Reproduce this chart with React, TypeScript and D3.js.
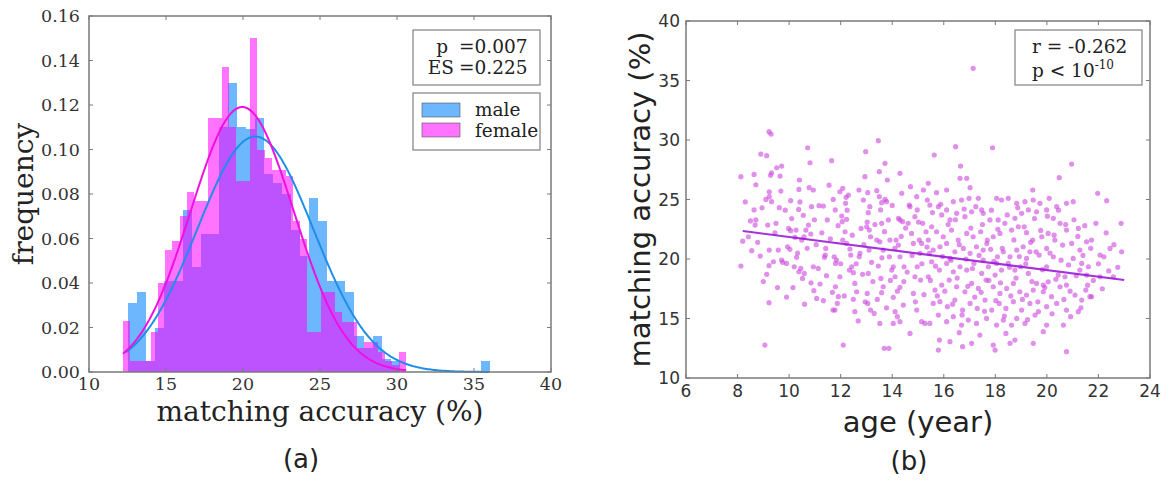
import React from "react";
import * as d3 from "d3";

// ---- panel (a): histogram of matching accuracy by sex ----
const maleStart = 12.55;
const maleBinWidth = 0.5875;
const maleFreq = [
  0.031, 0.036, 0.005, 0.02, 0.041, 0.041, 0.073, 0.047, 0.062, 0.062,
  0.11, 0.13, 0.11, 0.109, 0.114, 0.089, 0.085, 0.08, 0.064, 0.052,
  0.078, 0.068, 0.041, 0.041, 0.036, 0.016, 0.011, 0.016, 0.006, 0.005,
  0, 0, 0, 0, 0, 0, 0, 0, 0, 0.005,
];

const femaleStart = 12.2;
const femaleBinWidth = 0.46;
const femaleFreq = [
  0.023, 0.005, 0.005, 0.005, 0.018, 0.04, 0.055, 0.059, 0.07, 0.081,
  0.077, 0.077, 0.114, 0.114, 0.137, 0.11, 0.086, 0.086, 0.15, 0.1,
  0.096, 0.091, 0.091, 0.088, 0.068, 0.06, 0.018, 0.018, 0.036, 0.036,
  0.027, 0.0226, 0.0226, 0.011, 0.0136, 0.0136, 0.009, 0.005, 0.003, 0.009,
];

// fitted normal curves (mean, sd, drawn range)
const maleFit = { mean: 20.8, sd: 3.77, from: 12.4, to: 36.0 };
const femaleFit = { mean: 19.95, sd: 3.35, from: 12.2, to: 30.6 };

const histXTicks = [10, 15, 20, 25, 30, 35, 40];
const histYTicks = [0, 0.02, 0.04, 0.06, 0.08, 0.1, 0.12, 0.14, 0.16];

// ---- panel (b): age vs matching accuracy ----
const subjects: [number, number][] = [
  [8.13, 26.92], [8.13, 19.41], [8.64, 27.11], [8.71, 26.24], [8.64, 24.12], [8.71, 23.28],
  [8.68, 22.85], [8.9, 28.82], [9.13, 28.68], [8.88, 20.25], [9.22, 30.7], [9.3, 30.5],
  [9.06, 12.77], [9.22, 16.33], [9.23, 25.65], [9.28, 27.03], [9.32, 27.25], [9.52, 27.67],
  [9.71, 27.81], [9.65, 26.97], [9.23, 25.24], [9.1, 25.01], [9.32, 24.82], [9.68, 25.71],
  [9.62, 24.31], [9.17, 22.85], [9.49, 23.0], [9.23, 20.75], [9.58, 20.75], [9.71, 19.91],
  [9.75, 19.72], [9.39, 19.77], [9.22, 19.44], [9.13, 18.71], [8.42, 21.87], [8.55, 20.7],
  [9.98, 22.57], [10.06, 22.38], [10.27, 22.43], [10.23, 21.82], [9.94, 21.03], [10.03, 20.81],
  [10.29, 20.14], [10.06, 24.9], [10.4, 26.64], [10.38, 25.85], [10.37, 24.17], [10.55, 23.67],
  [10.72, 29.35], [10.81, 28.09], [10.78, 25.99], [10.94, 25.8], [10.87, 24.4], [10.75, 22.85],
  [10.65, 22.43], [10.58, 21.87], [10.49, 21.59], [10.45, 19.21], [10.59, 18.79], [10.52, 18.37],
  [10.38, 18.93], [10.2, 19.35], [9.9, 19.63], [10.84, 22.1], [10.96, 17.34], [11.07, 16.69],
  [11.33, 16.5], [11.13, 19.21], [10.94, 19.35], [11.16, 24.48], [11.33, 24.45], [11.48, 23.28],
  [11.42, 20.89], [11.4, 20.33], [11.37, 20.14], [11.65, 28.26], [11.71, 25.01], [11.79, 24.12],
  [11.75, 20.19], [11.8, 19.63], [11.84, 19.91], [11.8, 17.67], [11.91, 16.83], [11.87, 16.27],
  [11.78, 15.71], [11.7, 15.71], [11.97, 18.51], [11.97, 25.65], [12.08, 25.94], [12.19, 24.68],
  [12.21, 25.18], [12.3, 25.38], [12.04, 23.61], [12.06, 23.14], [12.23, 23.33], [12.17, 22.29],
  [12.08, 21.59], [12.23, 21.31], [12.36, 20.84], [12.1, 12.77], [12.39, 20.33], [12.43, 19.35],
  [12.49, 18.85], [12.34, 19.07], [12.55, 17.95], [12.62, 17.25], [12.49, 16.61], [12.55, 15.57],
  [12.71, 25.8], [12.79, 22.57], [12.75, 20.47], [12.72, 20.19], [12.85, 18.71], [12.88, 24.96],
  [12.94, 26.92], [12.97, 29.02], [13.05, 25.57], [13.07, 23.89], [13.03, 23.11], [13.01, 22.71],
  [13.11, 22.43], [13.16, 21.87], [13.1, 20.75], [13.2, 19.72], [13.07, 18.79], [13.03, 17.11],
  [13.16, 15.71], [13.05, 16.27], [13.3, 15.43], [13.46, 29.94], [13.5, 27.34], [13.4, 25.74],
  [13.5, 25.24], [13.59, 24.73], [13.55, 24.12], [13.59, 23.0], [13.4, 21.59], [13.52, 21.45],
  [13.65, 20.75], [13.46, 19.41], [13.56, 18.37], [13.65, 17.67], [13.59, 17.17], [13.52, 14.59],
  [13.69, 12.49], [13.87, 12.49], [13.72, 28.04], [13.81, 26.64], [13.72, 25.01], [13.78, 24.82],
  [13.85, 23.28], [13.91, 21.59], [13.89, 20.19], [13.98, 19.07], [14.04, 19.35], [14.11, 18.51],
  [14.04, 16.78], [14.11, 15.57], [14.04, 14.59], [14.3, 14.73], [14.2, 15.15], [14.3, 27.2],
  [14.37, 25.52], [14.24, 23.42], [14.3, 23.28], [14.4, 23.14], [14.15, 21.59], [14.24, 21.17],
  [14.3, 20.19], [14.46, 19.35], [14.3, 17.62], [14.43, 16.13], [14.69, 13.75], [14.69, 24.4],
  [14.71, 26.08], [14.66, 24.53], [14.62, 23.0], [14.75, 22.15], [14.82, 21.31], [14.88, 23.56],
  [14.97, 24.12], [14.95, 25.24], [15.05, 21.59], [15.14, 21.31], [15.08, 20.47], [14.97, 19.35],
  [14.88, 18.51], [14.82, 17.11], [14.95, 15.71], [15.14, 14.73], [15.27, 14.59], [15.1, 18.23],
  [15.4, 18.51], [15.36, 24.96], [15.4, 26.36], [15.21, 25.8], [15.18, 23.0], [15.31, 22.29],
  [15.44, 20.47],
  [17.14, 36.02], [16.46, 29.44], [17.89, 29.35], [15.63, 28.74], [16.65, 27.81], [20.96, 27.98],
  [16.63, 26.78], [16.89, 26.78], [20.48, 26.83], [21.97, 25.52], [22.32, 24.9], [19.45, 25.8],
  [15.72, 25.57], [16.11, 25.8], [17.02, 25.99], [15.46, 24.53], [15.79, 24.4], [16.11, 24.12],
  [16.37, 24.82], [16.69, 24.96], [16.98, 25.1], [17.34, 25.1], [17.47, 24.12], [18.05, 25.1],
  [18.24, 24.96], [18.5, 25.1], [18.83, 24.68], [19.15, 24.82], [19.47, 24.96], [19.73, 24.68],
  [20.09, 25.1], [20.38, 24.4], [20.76, 24.68], [21.02, 24.82], [15.53, 22.71], [15.92, 23.7],
  [16.24, 23.28], [16.5, 23.84], [16.82, 23.56], [17.08, 23.97], [17.53, 23.84], [17.79, 23.28],
  [18.11, 23.28], [18.37, 23.0], [18.76, 23.42], [19.02, 23.84], [19.28, 24.12], [19.6, 23.97],
  [19.99, 24.12], [20.25, 23.42], [20.51, 23.0], [20.76, 22.43], [21.22, 22.57], [21.54, 21.45],
  [21.73, 21.59], [15.4, 21.59], [15.72, 22.29], [15.98, 21.87], [16.3, 22.43], [16.56, 21.59],
  [16.89, 22.15], [17.14, 21.87], [17.43, 22.29], [17.69, 21.59], [17.92, 21.87], [18.18, 22.15],
  [18.63, 22.43], [18.89, 22.71], [19.21, 22.21], [19.45, 21.59], [19.8, 21.87], [20.05, 22.15],
  [20.31, 21.59], [20.61, 21.17], [20.96, 21.31], [21.28, 20.75], [15.59, 20.75], [15.85, 21.03],
  [16.11, 21.31], [16.43, 20.61], [16.76, 20.89], [17.02, 20.47], [17.27, 21.03], [17.53, 20.75],
  [17.82, 20.81], [18.08, 20.19], [18.31, 20.61], [18.57, 20.19], [18.83, 20.75], [19.08, 21.03],
  [19.34, 20.61], [19.7, 20.33], [19.99, 20.89], [20.25, 20.19], [21.02, 20.05], [21.35, 19.63],
  [22.06, 20.33], [22.21, 20.19], [22.45, 20.89], [22.9, 20.61], [15.53, 19.77], [15.83, 19.07],
  [16.11, 19.63], [16.37, 18.93], [16.63, 19.35], [16.89, 19.07], [17.17, 19.63], [17.47, 18.79],
  [17.73, 19.35], [17.99, 18.65], [18.24, 19.07], [18.5, 19.63], [18.76, 19.07], [18.98, 19.35],
  [19.28, 18.79], [19.6, 17.95], [19.86, 17.81], [20.05, 18.09], [20.44, 18.65], [20.7, 18.51],
  [21.28, 19.07], [21.61, 19.35], [15.66, 17.39], [15.92, 17.81], [16.21, 18.23], [16.5, 17.67],
  [16.82, 17.25], [17.08, 17.95], [17.34, 17.53], [17.64, 18.23], [17.92, 17.67], [18.18, 17.11],
  [18.44, 17.53], [18.7, 17.95], [18.95, 17.25], [19.21, 16.97], [19.47, 17.39], [19.86, 17.25],
  [20.18, 16.83], [20.51, 17.67], [20.76, 17.81], [21.09, 16.97], [21.73, 16.83], [15.59, 16.27],
  [15.85, 16.41], [16.14, 15.99], [16.43, 16.55], [16.73, 15.71], [17.02, 16.27], [17.3, 15.85],
  [17.6, 16.55], [17.86, 15.71], [18.15, 16.27], [18.41, 15.85], [18.7, 16.41], [19.02, 15.71],
  [19.34, 16.27], [19.67, 15.57], [19.99, 15.99], [20.38, 16.27], [20.76, 15.71], [21.22, 15.57],
  [21.35, 16.55], [15.46, 14.59], [15.79, 15.29], [16.11, 14.73], [16.37, 15.15], [16.69, 14.45],
  [16.95, 14.87], [17.27, 14.59], [17.66, 15.01], [18.05, 14.45], [18.31, 14.87], [18.63, 14.45],
  [18.83, 15.01], [19.15, 14.59], [19.54, 15.29], [19.99, 14.45], [20.64, 14.45], [20.92, 15.15],
  [15.83, 13.19], [16.24, 13.05], [16.6, 13.81], [16.73, 12.63], [17.4, 13.61], [17.92, 12.77],
  [17.99, 12.35], [18.57, 12.91], [18.41, 13.75], [18.76, 13.19], [19.47, 12.91], [19.86, 13.89],
  [20.76, 12.21], [15.79, 12.35], [17.08, 12.91], [22.58, 18.51], [22.06, 18.51], [21.51, 17.39],
  [21.67, 16.83], [17.53, 19.91], [19.21, 20.05], [18.05, 19.63], [16.24, 20.05], [19.99, 19.35],
  [21.54, 18.65],
  [14.52, 22.6], [14.58, 18.9], [14.77, 20.3], [14.9, 16.4], [15.02, 23.1], [15.15, 19.6],
  [15.23, 17.0], [15.35, 21.0], [15.48, 18.2], [15.56, 23.9], [15.68, 19.4], [15.75, 16.9],
  [15.88, 24.6], [15.95, 20.2], [16.04, 17.3], [16.17, 22.9], [16.28, 19.9], [16.34, 16.2],
  [16.45, 23.3], [16.52, 18.4], [16.6, 21.2], [16.71, 15.3], [16.79, 24.2], [16.86, 20.0],
  [16.93, 17.7], [17.05, 22.6], [17.11, 19.2], [17.2, 16.8], [17.24, 24.4], [17.37, 20.3],
  [17.45, 17.2], [17.5, 22.9], [17.58, 15.6], [17.67, 21.3], [17.75, 18.2], [17.85, 24.1],
  [17.94, 19.8], [18.02, 16.5], [18.1, 22.5], [18.2, 18.0], [18.27, 20.9], [18.35, 15.2],
  [18.46, 23.7], [18.55, 19.3], [18.6, 16.9], [18.72, 21.6], [18.8, 18.4], [18.87, 24.3],
  [18.93, 20.2], [19.05, 16.6], [19.12, 22.7], [19.18, 19.6], [19.25, 14.9], [19.37, 21.4],
  [19.42, 18.1], [19.52, 23.4], [19.58, 20.6], [19.65, 16.4], [19.76, 22.4], [19.83, 19.1],
  [19.92, 17.6], [20.02, 23.6], [20.12, 20.5], [20.2, 15.4], [20.28, 22.0], [20.35, 18.3],
  [20.45, 24.1], [20.55, 19.9], [20.66, 16.6], [20.73, 22.9], [20.84, 19.5], [20.9, 17.3],
  [21.05, 23.3], [21.14, 18.6], [21.2, 21.9], [21.32, 15.9], [21.4, 20.3], [21.47, 22.8],
  [21.58, 17.8], [21.7, 20.9], [21.8, 18.2], [21.9, 23.0], [22.0, 19.6], [22.15, 17.5],
  [22.3, 22.2], [22.4, 19.0], [22.6, 21.2], [22.75, 19.3], [22.88, 23.0],
  [10.1, 23.4], [10.15, 17.6], [10.33, 20.5], [10.42, 24.8], [10.6, 16.2], [10.7, 20.9],
  [10.85, 18.0], [10.98, 23.3], [11.05, 21.2], [11.2, 17.9], [11.27, 22.2], [11.45, 18.6],
  [11.55, 26.2], [11.6, 21.7], [11.68, 17.2], [11.9, 22.8], [12.0, 19.6], [12.14, 16.9],
  [12.25, 24.1], [12.45, 22.0], [12.6, 19.6], [12.68, 14.8], [12.9, 21.2], [12.95, 16.4],
  [13.13, 24.4], [13.25, 18.1], [13.33, 22.9], [13.42, 16.6], [13.6, 20.1], [13.7, 22.3],
  [13.78, 15.9], [13.93, 18.2], [14.0, 24.5], [14.1, 20.9], [14.2, 17.3], [14.35, 21.9],
  [14.45, 18.1],
  [8.2, 21.5], [8.3, 24.8], [8.5, 23.2], [8.78, 21.4], [8.95, 24.3], [9.0, 18.1],
  [9.45, 22.2], [9.55, 17.6], [9.85, 24.1], [9.9, 16.8],
];

// least squares fit line drawn over the age range
const regression = { slope: -0.278, intercept: 24.63, from: 8.2, to: 23.0 };

const scatterXTicks = [6, 8, 10, 12, 14, 16, 18, 20, 22, 24];
const scatterYTicks = [10, 15, 20, 25, 30, 35, 40];

const SERIF = "'DejaVu Serif', serif";
const SANS = "'DejaVu Sans', sans-serif";
const FRAME = "#7a7a7a";
const TICK_TEXT = "#333";

function pdf(x: number, m: number, s: number) {
  return Math.exp(-((x - m) ** 2) / (2 * s * s)) / (s * Math.sqrt(2 * Math.PI));
}

function Frame({ x, y, ticksX, ticksY }: any) {
  const [x0, x1] = x.range();
  const [y0, y1] = y.range();
  const t = 4;
  return (
    <g>
      <rect x={x0} y={y1} width={x1 - x0} height={y0 - y1} fill="none" stroke={FRAME} strokeWidth={1.5} />
      {ticksX.map((v: number) => (
        <g key={"tx" + v} stroke={FRAME} strokeWidth={1}>
          <line x1={x(v)} x2={x(v)} y1={y0} y2={y0 - t} />
          <line x1={x(v)} x2={x(v)} y1={y1} y2={y1 + t} />
        </g>
      ))}
      {ticksY.map((v: number) => (
        <g key={"ty" + v} stroke={FRAME} strokeWidth={1}>
          <line x1={x0} x2={x0 + t} y1={y(v)} y2={y(v)} />
          <line x1={x1} x2={x1 - t} y1={y(v)} y2={y(v)} />
        </g>
      ))}
    </g>
  );
}

function Histogram() {
  const x = d3.scaleLinear().domain([10, 40]).range([89, 551]);
  const y = d3.scaleLinear().domain([0, 0.16]).range([372, 16]);

  // snap bar edges to whole pixels so neighbouring bars meet without seams
  const bars = (start: number, w: number, freq: number[]) =>
    freq
      .map((f, i) => {
        const left = Math.round(x(start + i * w));
        const right = Math.round(x(start + (i + 1) * w));
        return { left, right, top: Math.round(y(f)), f };
      })
      .filter((d) => d.f > 0);

  const curve = (fit: { mean: number; sd: number; from: number; to: number }) => {
    const xs = d3.range(fit.from, fit.to + 0.001, 0.1);
    return d3
      .line<number>()
      .x((v) => x(v))
      .y((v) => y(pdf(v, fit.mean, fit.sd)))(xs) as string;
  };

  const maleColor = "#1e90ff";
  const femaleColor = "#ff00ff";
  const base = Math.round(y(0));

  return (
    <g>
      <g shapeRendering="crispEdges">
        {bars(maleStart, maleBinWidth, maleFreq).map((d, i) => (
          <rect key={"m" + i} x={d.left} width={d.right - d.left} y={d.top} height={base - d.top}
            fill={maleColor} fillOpacity={0.65} />
        ))}
        {bars(femaleStart, femaleBinWidth, femaleFreq).map((d, i) => (
          <rect key={"f" + i} x={d.left} width={d.right - d.left} y={d.top} height={base - d.top}
            fill={femaleColor} fillOpacity={0.55} />
        ))}
      </g>
      <path d={curve(maleFit)} fill="none" stroke="#1f8ee8" strokeWidth={2} />
      <path d={curve(femaleFit)} fill="none" stroke="#f010e0" strokeWidth={2} />

      <Frame x={x} y={y} ticksX={histXTicks} ticksY={histYTicks} />

      <g fontFamily={SERIF} fontSize={17.5} fill={TICK_TEXT}>
        {histYTicks.map((v) => (
          <text key={v} x={80} y={y(v)} dy="0.36em" textAnchor="end">{v.toFixed(2)}</text>
        ))}
        {histXTicks.map((v) => (
          <text key={v} x={x(v)} y={390} textAnchor="middle">{v}</text>
        ))}
      </g>

      <text x={x(25)} y={421} textAnchor="middle" fontFamily={SERIF} fontSize={28} fill="#222">
        matching accuracy (%)
      </text>
      <text transform={`translate(33,${(y(0) + y(0.16)) / 2}) rotate(-90)`} textAnchor="middle"
        fontFamily={SERIF} fontSize={28} fill="#222">
        frequency
      </text>

      {/* stats box */}
      <rect x={413} y={30} width={127} height={55} fill="#fff" stroke="#8a8a8a" strokeWidth={1.3} />
      <g fontFamily={SERIF} fontSize={18.5} fill="#222">
        <text x={448} y={53} textAnchor="end">p</text>
        <text x={459} y={53}>=0.007</text>
        <text x={454} y={74} textAnchor="end">ES</text>
        <text x={459} y={74}>=0.225</text>
      </g>

      {/* legend */}
      <rect x={413} y={93} width={127} height={57} fill="#fff" stroke="#8a8a8a" strokeWidth={1.3} />
      <rect x={422} y={103} width={38} height={14} fill={maleColor} fillOpacity={0.65} stroke="#555" strokeWidth={0.6} />
      <rect x={422} y={123} width={38} height={14} fill={femaleColor} fillOpacity={0.55} stroke="#555" strokeWidth={0.6} />
      <g fontFamily={SERIF} fontSize={18.5} fill="#222">
        <text x={475} y={116}>male</text>
        <text x={475} y={137}>female</text>
      </g>

      <text x={301} y={468} textAnchor="middle" fontFamily={SANS} fontSize={26} fill="#222">(a)</text>
    </g>
  );
}

function Scatter() {
  const x = d3.scaleLinear().domain([6, 24]).range([686, 1150]);
  const y = d3.scaleLinear().domain([10, 40]).range([378, 21]);
  const fitLine = d3
    .line<number>()
    .x((v) => x(v))
    .y((v) => y(regression.intercept + regression.slope * v))([regression.from, regression.to]) as string;

  return (
    <g>
      {subjects.map(([a, m], i) => (
        <circle key={i} cx={x(a)} cy={y(m)} r={2.6} fill="#cc44dd" fillOpacity={0.6} />
      ))}
      <path d={fitLine} stroke="#9410d3" strokeOpacity={0.85} strokeWidth={2.2} fill="none" />

      <Frame x={x} y={y} ticksX={scatterXTicks} ticksY={scatterYTicks} />

      <g fontFamily={SANS} fontSize={17} fill={TICK_TEXT}>
        {scatterYTicks.map((v) => (
          <text key={v} x={680} y={y(v)} dy="0.36em" textAnchor="end">{v}</text>
        ))}
        {scatterXTicks.map((v) => (
          <text key={v} x={x(v)} y={397} textAnchor="middle">{v}</text>
        ))}
      </g>

      <text x={x(15)} y={432} textAnchor="middle" fontFamily={SANS} fontSize={29} fill="#222">
        age (year)
      </text>
      <text transform={`translate(650,${(y(10) + y(40)) / 2}) rotate(-90)`} textAnchor="middle"
        fontFamily={SANS} fontSize={29} fill="#222">
        matching accuracy (%)
      </text>

      <rect x={1015} y={30} width={127} height={55} fill="#fff" stroke="#8a8a8a" strokeWidth={1.3} />
      <g fontFamily={SERIF} fontSize={18.5} fill="#222">
        <text x={1032} y={53}>r = -0.262</text>
        <text x={1032} y={77}>
          p &lt; 10<tspan fontSize={12} dy={-8}>-10</tspan>
        </text>
      </g>

      <text x={909} y={470} textAnchor="middle" fontFamily={SANS} fontSize={26} fill="#222">(b)</text>
    </g>
  );
}

export default function App() {
  return (
    <svg width={1176} height={483} style={{ position: "absolute", left: 0, top: 0, background: "#fff" }}>
      <rect width={1176} height={483} fill="#fff" />
      <Histogram />
      <Scatter />
    </svg>
  );
}
